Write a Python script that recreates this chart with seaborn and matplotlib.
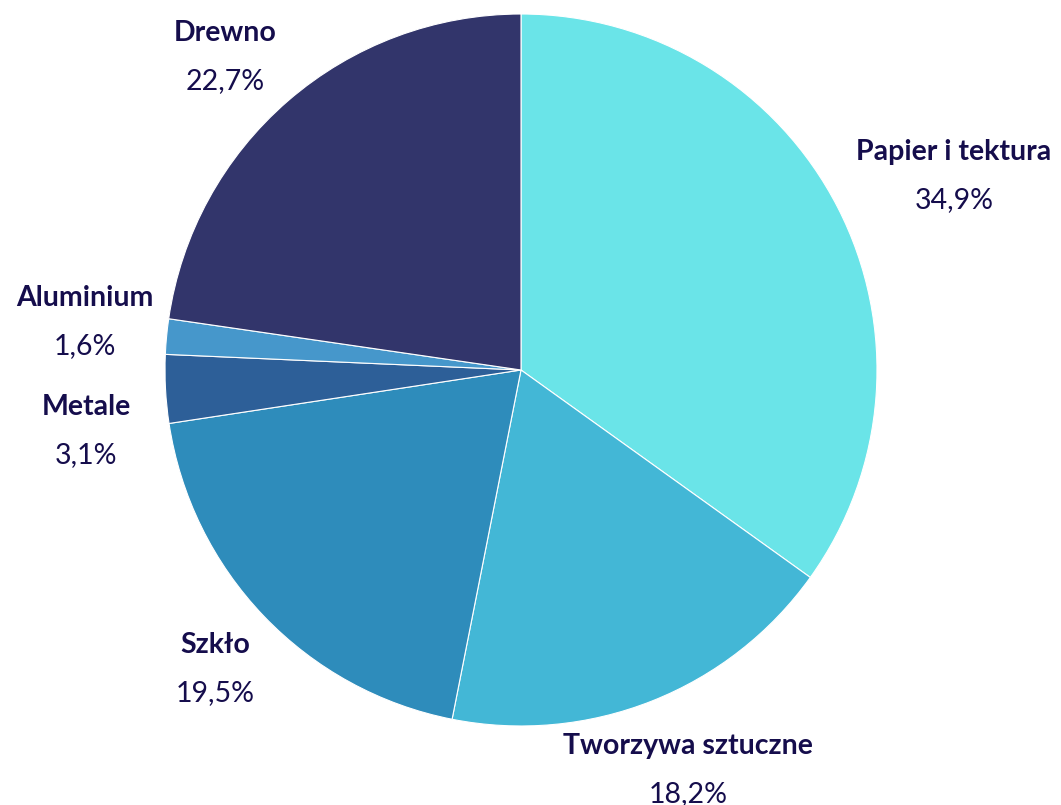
import matplotlib
matplotlib.use("Agg")
import matplotlib.pyplot as plt
import seaborn as sns

sns.set_theme(style="white")
plt.rcParams['font.family'] = ['Lato', 'DejaVu Sans']

labels = ["Papier i tektura", "Tworzywa sztuczne", "Szkło", "Metale", "Aluminium", "Drewno"]
values = [34.9, 18.2, 19.5, 3.1, 1.6, 22.7]
colors = sns.color_palette(["#6ae4e8", "#43b7d6", "#2e8cbb", "#2d5f98", "#4697cb", "#32356b"])

# label anchor positions (in pie radius units), picked by hand like the original
label_pos = [(1.216, 0.612), (0.469, -1.055), (-0.86, -0.772), (-1.222, -0.104), (-1.225, 0.202), (-0.831, 0.947)]

fig = plt.figure(figsize=(10.61, 8.05), dpi=100)
ax = fig.add_axes([0, 0, 1, 1])
ax.pie(values, colors=colors, startangle=90, counterclock=False, radius=1,
       wedgeprops=dict(edgecolor="white", linewidth=0.8))
ax.set_xlim(-1.4635, 1.5169)
ax.set_ylim(-1.2219, 1.0393)
ax.set_aspect("equal")
ax.axis("off")

txt = "#150d4c"
for lab, v, (x, y) in zip(labels, values, label_pos):
    ax.text(x, y, lab, ha="center", va="center", fontsize=20.5, fontweight="bold", color=txt)
    ax.text(x, y - 0.135, f"{v:.1f}%".replace(".", ","), ha="center", va="center",
            fontsize=20.5, color=txt)

fig.savefig("out.png", dpi=100, facecolor="white")
